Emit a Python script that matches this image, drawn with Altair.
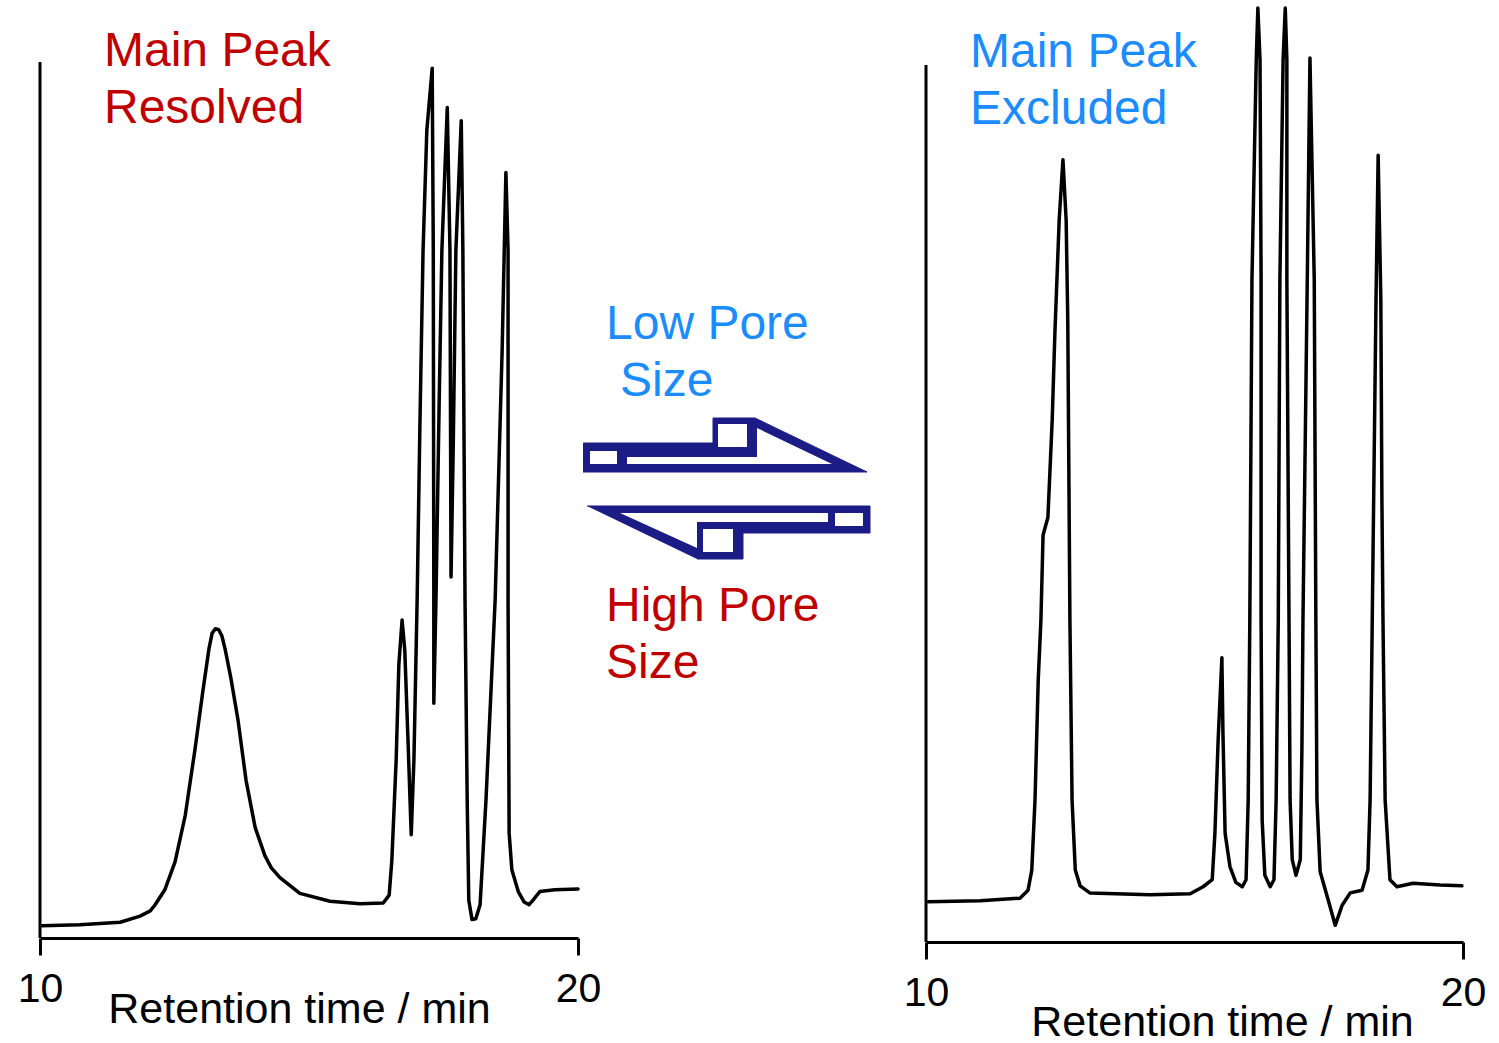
import altair as alt
import pandas as pd

# Chromatogram on the high pore size column: retention time (min) and detector signal (% full scale)
left_time = [10.04, 10.74, 11.49, 11.86, 12.05, 12.14, 12.32, 12.51, 12.70, 12.88, 13.03,
             13.14, 13.20, 13.26, 13.32, 13.38, 13.44, 13.55, 13.68, 13.83, 14.00, 14.18, 14.30, 14.46,
             14.83, 15.39, 15.95, 16.38, 16.49, 16.54, 16.62, 16.67, 16.73, 16.78,
             16.84, 16.90, 16.95, 17.01, 17.06, 17.12, 17.19, 17.29, 17.31, 17.32,
             17.32, 17.36, 17.42, 17.47, 17.57, 17.62, 17.64, 17.68, 17.73, 17.83,
             17.86, 17.90, 17.94, 17.97, 18.03, 18.10, 18.18, 18.29, 18.46, 18.59,
             18.66, 18.70, 18.70, 18.72, 18.77, 18.89, 19.00, 19.09, 19.16, 19.29,
             19.57, 20.00]
left_signal = [1.4, 1.5, 1.8, 2.5, 3.1, 3.8, 5.5, 8.7, 14.0, 21.5, 28.3,
               33.0, 34.8, 35.3, 35.2, 34.5, 33.0, 29.6, 24.9, 18.0, 12.6, 9.4, 8.0, 6.9,
               5.1, 4.2, 3.9, 4.0, 4.9, 8.9, 20.3, 31.2, 36.3, 32.9,
               22.6, 11.8, 20.3, 38.6, 58.0, 78.5, 92.2, 99.3, 78.5, 38.6,
               26.8, 38.6, 61.4, 78.5, 94.8, 78.5, 41.2, 55.7, 78.5, 93.3,
               78.5, 38.6, 15.8, 4.3, 2.1, 2.2, 3.8, 15.8, 38.6, 67.1,
               87.4, 78.5, 38.6, 12.0, 7.8, 5.3, 4.1, 3.8, 4.3, 5.3,
               5.5, 5.6]

# Chromatogram on the low pore size column
right_time = [10.04, 11.01, 11.75, 11.90, 11.97, 12.03, 12.09, 12.14, 12.18, 12.27,
              12.35, 12.40, 12.48, 12.55, 12.61, 12.64, 12.68, 12.72, 12.78, 12.87,
              13.05, 14.17, 14.92, 15.16, 15.33, 15.38, 15.44, 15.51, 15.53, 15.57,
              15.66, 15.77, 15.89, 15.96, 16.00, 16.03, 16.07, 16.15, 16.18, 16.22,
              16.24, 16.24, 16.26, 16.31, 16.41, 16.48, 16.52, 16.56, 16.59, 16.65,
              16.69, 16.72, 16.72, 16.76, 16.78, 16.82, 16.89, 16.97, 17.00, 17.02,
              17.10, 17.15, 17.23, 17.26, 17.28, 17.34, 17.49, 17.62, 17.75, 17.90,
              18.12, 18.23, 18.27, 18.31, 18.38, 18.42, 18.47, 18.49, 18.51, 18.55,
              18.64, 18.77, 19.07, 19.57, 19.98]
right_signal = [4.6, 4.7, 5.0, 5.9, 8.2, 16.2, 29.9, 36.7, 46.4, 48.4,
                59.5, 69.4, 82.3, 89.2, 82.3, 70.9, 36.7, 16.2, 8.2, 6.4,
                5.6, 5.4, 5.5, 6.3, 7.1, 12.4, 23.0, 32.4, 23.8, 12.4,
                8.6, 6.8, 6.3, 7.1, 16.2, 36.7, 75.5, 100.6, 106.5, 100.6,
                75.5, 36.7, 13.9, 7.6, 6.3, 7.1, 16.2, 36.7, 75.5, 100.6,
                106.5, 100.6, 75.5, 36.7, 16.2, 9.4, 7.6, 9.4, 21.9, 36.7,
                75.5, 100.8, 75.5, 36.7, 16.2, 8.0, 4.8, 1.9, 4.2, 5.6,
                5.9, 8.2, 16.2, 36.7, 73.2, 89.7, 73.2, 50.4, 36.7, 16.2,
                7.1, 6.3, 6.7, 6.5, 6.4]

axis_ticks = [10, 20]
axis_title = "Retention time / min"

label_resolved = "Main Peak\nResolved"
label_excluded = "Main Peak\nExcluded"
label_low = ["Low Pore", "Size"]
label_high = "High Pore\nSize"

# Exchange-arrow icon, drawn in its own local units: solid outlines, then the white cut-outs
icon_outline = {
    "upper": [(0, 25), (130, 25), (130, 0), (172, 0), (284, 54), (0, 54)],
    "lower": [(4, 88), (287, 88), (287, 115), (160, 115), (160, 141), (114, 141)],
}
icon_holes = {
    "upper_box": [(7, 33), (34, 33), (34, 46), (7, 46)],
    "upper_raised": [(135, 6), (164, 6), (164, 29), (135, 29)],
    "upper_channel": [(44, 39), (174, 39), (174, 10), (249, 46), (44, 46)],
    "lower_box": [(252, 95), (280, 95), (280, 108), (252, 108)],
    "lower_sunk": [(120, 111), (150, 111), (150, 134), (120, 134)],
    "lower_channel": [(37, 95), (245, 95), (245, 104), (114, 104), (114, 130)],
}

FONT = "Liberation Sans"
RED = "#c00000"
BLUE = "#1a8cff"
NAVY = "#1c1c86"


def polygons(shapes):
    rows = []
    for name, pts in shapes.items():
        for i, (u, v) in enumerate(pts):
            rows.append({"shape": name, "i": i, "u": u, "v": v})
    return pd.DataFrame(rows)


def time_axis(title_x, title_y, offset):
    return alt.Axis(
        values=axis_ticks, orient="bottom", offset=offset, grid=False, format="d",
        domainColor="black", domainWidth=3, tickColor="black", tickWidth=3, tickSize=17,
        labelFont=FONT, labelFontSize=41, labelColor="black", labelPadding=14,
        labelFlush=False, labelOverlap=False,
        title=axis_title, titleFont=FONT, titleFontSize=43, titleFontWeight="normal",
        titleColor="black", titleX=title_x, titleY=title_y,
        titleBaseline="alphabetic", titleAlign="center",
    )


def panel(times, signals, x_range, y_range, title_x, title_y, offset):
    xs = alt.Scale(domain=[10, 20], range=x_range, nice=False, zero=False)
    ys = alt.Scale(domain=[0, 100], range=y_range, nice=False, zero=False)
    ax = time_axis(title_x, title_y, offset)
    df = pd.DataFrame({"t": times, "s": signals, "k": range(len(times))})
    trace = alt.Chart(df).mark_line(
        color="black", strokeWidth=3.5, strokeJoin="round", strokeCap="round"
    ).encode(
        x=alt.X("t:Q", scale=xs, axis=ax),
        y=alt.Y("s:Q", scale=ys, axis=None),
        order="k:Q",
    )
    yline = alt.Chart(pd.DataFrame({"t": [10], "lo": [0], "hi": [100]})).mark_rule(
        color="black", strokeWidth=3
    ).encode(
        x=alt.X("t:Q", scale=xs, axis=ax),
        y=alt.Y("lo:Q", scale=ys, axis=None),
        y2="hi:Q",
    )
    return alt.layer(trace, yline)


left = panel(left_time, left_signal, [40, 578], [938, 62], 299, 84, 0)
right = panel(right_time, right_signal, [926, 1463], [942, 65], 1222, 93, 4)

ux = alt.Scale(domain=[0, 300], range=[583, 883], nice=False, zero=False)
uy = alt.Scale(domain=[0, 150], range=[418, 568], nice=False, zero=False)
icon_solid = alt.Chart(polygons(icon_outline)).mark_line(
    fill=NAVY, stroke=NAVY, strokeWidth=1
).encode(
    x=alt.X("u:Q", scale=ux, axis=None),
    y=alt.Y("v:Q", scale=uy, axis=None),
    detail="shape:N", order="i:Q",
)
icon_cut = alt.Chart(polygons(icon_holes)).mark_line(
    fill="white", stroke="white", strokeOpacity=0
).encode(
    x=alt.X("u:Q", scale=ux, axis=None),
    y=alt.Y("v:Q", scale=uy, axis=None),
    detail="shape:N", order="i:Q",
)
icon = alt.layer(icon_solid, icon_cut)


def label(text, color, x, y):
    return alt.Chart(pd.DataFrame({"label": [text]})).mark_text(
        align="left", baseline="alphabetic", font=FONT, fontSize=48,
        color=color, lineBreak="\n", lineHeight=57,
    ).encode(x=alt.value(x), y=alt.value(y), text="label:N")


chart = alt.layer(
    left, right, icon,
    label(label_resolved, RED, 104, 66),
    label(label_excluded, BLUE, 970, 67),
    label(label_low[0], BLUE, 606, 339),
    label(label_low[1], BLUE, 620, 396),
    label(label_high, RED, 606, 621),
).resolve_scale(
    x="independent", y="independent"
).resolve_axis(
    x="independent", y="independent"
).properties(
    width=1499, height=938,
    padding={"left": 0, "top": 0, "right": 0, "bottom": 105},
    autosize=alt.AutoSizeParams(type="none"),
    background="white",
).configure_view(strokeWidth=0)

chart.save("out.html", embed_options={"renderer": "svg", "actions": False})
